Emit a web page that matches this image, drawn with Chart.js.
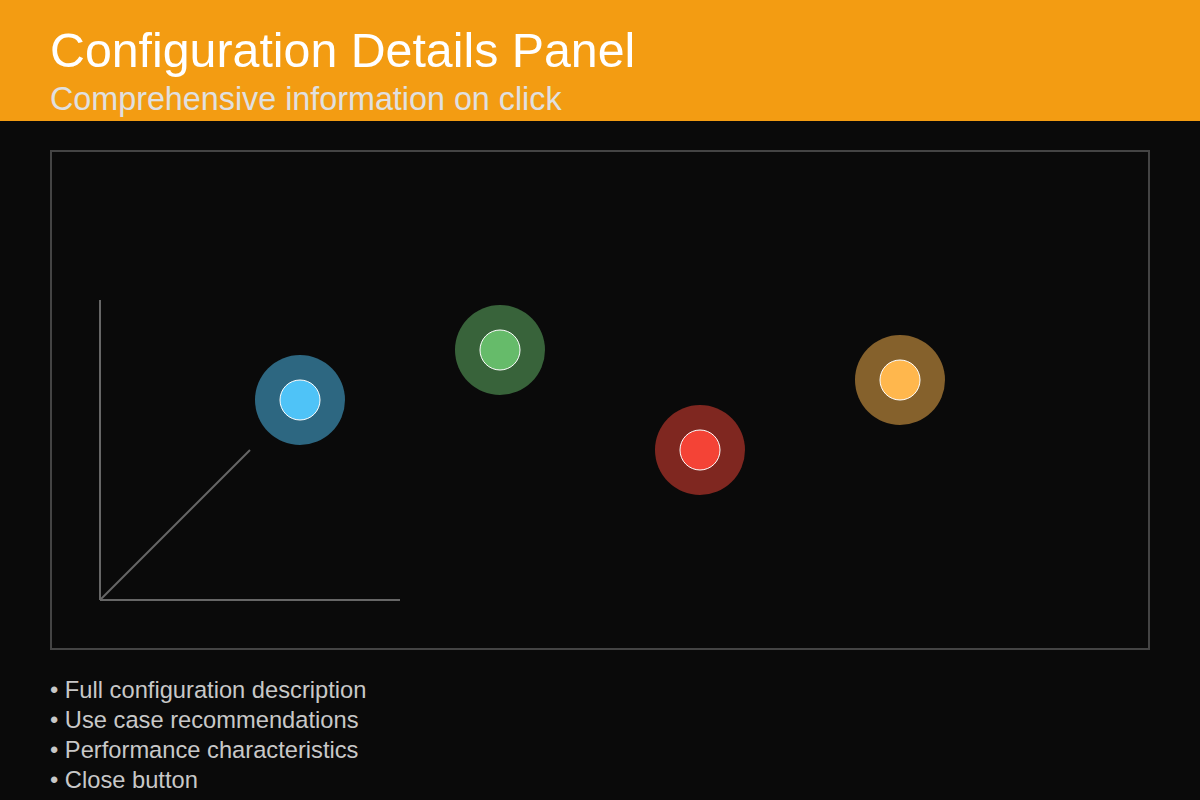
<!DOCTYPE html>
<html>
<head>
<meta charset="utf-8">
<script src="https://cdn.jsdelivr.net/npm/chart.js@4.4.1/dist/chart.umd.min.js"></script>
<style>
  html, body { margin: 0; padding: 0; }
  body { width: 1200px; height: 800px; background: #0a0a0a; position: relative; overflow: hidden;
         font-family: "Liberation Sans", Arial, Helvetica, sans-serif; }
  #header { position: absolute; left: 0; top: 0; width: 1200px; height: 121px; background: #f39c12; }
  #title { position: absolute; left: 50px; top: 26px; font-size: 48.3px; line-height: 48px; color: #ffffff; white-space: nowrap; }
  #subtitle { position: absolute; left: 50px; top: 83px; font-size: 32.3px; line-height: 32px; color: #e0e0e0; white-space: nowrap; }
  #chartBox { position: absolute; left: 50px; top: 150px; width: 1100px; height: 500px; }
  #frame { position: absolute; left: 50px; top: 150px; width: 1100px; height: 500px; box-sizing: border-box;
           border: 2px solid #444444; pointer-events: none; }
  #notes { position: absolute; left: 50px; top: 675px; font-size: 23.7px; line-height: 30px; color: #c8c8c8; white-space: nowrap; }
</style>
</head>
<body>
<div id="header">
  <div id="title">Configuration Details Panel</div>
  <div id="subtitle">Comprehensive information on click</div>
</div>
<div id="chartBox"><canvas id="c" width="1100" height="500"></canvas></div>
<div id="frame"></div>
<div id="notes"></div>
<script>
// ---- data ----
const configNames = ['Configuration 1', 'Configuration 2', 'Configuration 3', 'Configuration 4'];
const xValues = [2, 4, 6, 8];
const yValues = [2.0, 2.5, 1.5, 2.2];
const coreColors = ['#4fc3f7', '#66bb6a', '#f44336', '#ffb74d'];
const haloColors = ['rgba(79,195,247,0.5)', 'rgba(102,187,106,0.5)', 'rgba(244,67,54,0.5)', 'rgba(255,183,77,0.5)'];
const yAxisLine = [[0, 0], [0, 3]];
const xAxisLine = [[0, 0], [3, 0]];
const diagonalLine = [[0, 0], [1.5, 1.5]];
const detailItems = ['Full configuration description', 'Use case recommendations', 'Performance characteristics', 'Close button'];

document.getElementById('notes').innerHTML = detailItems.map(t => '\u2022 ' + t).join('<br>');

const pts = configNames.map((n, i) => ({ x: xValues[i], y: yValues[i], label: n }));
const toXY = arr => arr.map(p => ({ x: p[0], y: p[1] }));
const lineDs = (d) => ({
  type: 'line', data: toXY(d), borderColor: '#666666', borderWidth: 2,
  pointRadius: 0, fill: false, tension: 0, order: 3
});

new Chart(document.getElementById('c'), {
  type: 'scatter',
  data: {
    datasets: [
      { label: 'core', data: pts, backgroundColor: coreColors, borderColor: '#ffffff', borderWidth: 1,
        pointRadius: 20, pointHoverRadius: 20, order: 1 },
      { label: 'halo', data: pts, backgroundColor: haloColors, borderWidth: 0,
        pointRadius: 45, pointHoverRadius: 45, order: 2 },
      lineDs(yAxisLine),
      lineDs(xAxisLine),
      lineDs(diagonalLine)
    ]
  },
  options: {
    responsive: false,
    devicePixelRatio: 1,
    animation: false,
    events: [],
    layout: { padding: 0, autoPadding: false },
    plugins: { legend: { display: false }, tooltip: { enabled: false }, title: { display: false } },
    scales: {
      x: { type: 'linear', min: -0.5, max: 10.5, display: false },
      y: { type: 'linear', min: -0.5, max: 4.5, display: false }
    }
  }
});
</script>
</body>
</html>
